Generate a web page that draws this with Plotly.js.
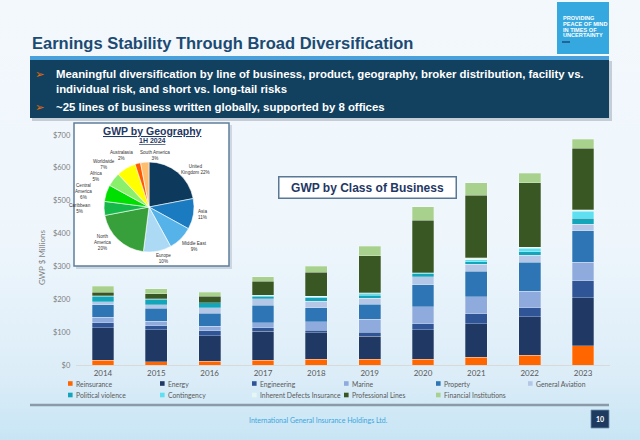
<!DOCTYPE html>
<html>
<head>
<meta charset="utf-8">
<script src="https://cdn.plot.ly/plotly-3.0.1.min.js"></script>
<style>
  html, body { margin: 0; padding: 0; }
  body { width: 640px; height: 440px; overflow: hidden;
         background: linear-gradient(to bottom, #f3f8fc 0%, #eef6fc 55%, #dcedf8 85%, #c8e5f5 100%); }
  #chart { width: 640px; height: 440px; }
</style>
</head>
<body>
<div id="chart"></div>
<script>
// ---------- data ----------
const years = ['2014','2015','2016','2017','2018','2019','2020','2021','2022','2023'];
const reinsurance          = [15, 10, 12, 15, 17, 17, 18, 23, 30, 59];
const energy               = [98, 98, 77, 88, 81, 71, 90, 103, 117, 146];
const engineering          = [15, 11, 15, 11, 8, 12, 18, 30, 28, 52];
const marine               = [18, 14, 14, 15, 25, 40, 51, 51, 50, 55];
const property             = [38, 39, 39, 53, 44, 45, 68, 79, 87, 97];
const generalAviation      = [8, 12, 17, 20, 19, 18, 23, 20, 22, 20];
const politicalViolence    = [17, 16, 15, 8, 10, 10, 9, 9, 11, 17];
const contingency          = [2, 2, 1, 2, 3, 5, 4, 5, 10, 22];
const inherentDefects      = [0, 0, 0, 0, 2, 2, 0, 6, 4, 5];
const professionalLines    = [11, 15, 19, 43, 74, 112, 159, 191, 196, 187];
const financialInstitutions= [17, 15, 12, 13, 17, 30, 41, 38, 28, 27];

const seriesNames = ['Reinsurance','Energy','Engineering','Marine','Property','General Aviation',
                     'Political violence','Contingency','Inherent Defects Insurance','Professional Lines','Financial Institutions'];
const seriesValues = [reinsurance, energy, engineering, marine, property, generalAviation,
                      politicalViolence, contingency, inherentDefects, professionalLines, financialInstitutions];
const seriesColors = ['#ff6600','#1f3864','#2f5597','#8faadc','#2e75b6','#b4c7e7',
                      '#13a5ba','#5fe0f2','#e3f8f3','#385723','#a9d18e'];

const geoRegions = ['United Kingdom','Asia','Middle East','Europe','North America','Caribbean',
                    'Central America','Africa','Worldwide','Australasia','South America'];
const geoShare   = [22, 11, 9, 10, 20, 5, 6, 5, 7, 2, 3];
const geoLabelLines = ['United<br>Kingdom','Asia','Middle East','Europe','North<br>America','Caribbean',
                       'Central<br>America','Africa','Worldwide','Australasia','South America'];
const geoColors  = ['#0d3a5c','#1a7bc0','#55b3e9','#acdaf5','#38a03a','#17b84a',
                    '#00e000','#8af06c','#ffff00','#ff5a00','#ffbd6e'];

const yTicks = [0,100,200,300,400,500,600,700];

// ---------- helpers (pixel -> paper) ----------
const W = 640, H = 440;
const px = v => v / W;
const py = v => 1 - v / H;
const rect = (x0,y0,x1,y1,fill,line,layer) => ({type:'rect', xref:'paper', yref:'paper',
  x0:px(x0), x1:px(x1), y0:py(y1), y1:py(y0), fillcolor:fill,
  line: line || {width:0}, layer: layer || 'below'});
const ann = (x,y,text,opts) => Object.assign({xref:'paper', yref:'paper', x:px(x), y:py(y),
  text:text, showarrow:false, xanchor:'left', yanchor:'middle', align:'left'}, opts);

const chartFont = 'Lato, "Open Sans", sans-serif';
const headFont = '"Liberation Sans", Arial, sans-serif';

// ---------- traces ----------
const traces = seriesNames.map((n, i) => ({
  type:'bar', name:n, x:years, y:seriesValues[i], showlegend:false,
  marker:{color:seriesColors[i], line:{color:'rgba(255,255,255,0.55)', width:0.5}},
  hoverinfo:'none'
}));

// pie geometry (layout)
const pieCx = 149, pieCy = 207, pieR = 45;
traces.push({
  type:'pie', labels:geoRegions, values:geoShare, sort:false, direction:'clockwise', rotation:0,
  textinfo:'none',
  marker:{colors:geoColors, line:{color:'#ffffff', width:0.6}},
  domain:{x:[px(pieCx-pieR), px(pieCx+pieR)], y:[py(pieCy+pieR), py(pieCy-pieR)]},
  showlegend:false, hoverinfo:'none'
});

// ---------- shapes ----------
const shapes = [
  rect(32,61,612,121,'rgba(40,60,80,0.22)'),
  rect(30,60,609,118,'#12405f'),
  rect(30,56,609,60,'#4aa0da'),
  rect(557,2,609,54,'#35a8e0'),
  {type:'line', xref:'paper', yref:'paper', x0:px(562), x1:px(570), y0:py(42), y1:py(42),
   line:{color:'#1f4e79', width:1.5}},
  rect(76,125,232,269,'rgba(60,80,100,0.18)'),
  rect(74,123,229,266,'#ffffff',{color:'#5f7f9c', width:1.5}),
  {type:'line', xref:'paper', yref:'paper', x0:px(30), x1:px(609), y0:py(405), y1:py(405),
   line:{color:'#8a9aa8', width:2.5}},
  rect(591,410,609,428,'#1f3a5f',{color:'#6f8fb0', width:0.8})
];

// ---------- annotations ----------
const annotations = [
  ann(30,43,'<b>Earnings Stability Through Broad Diversification</b>',
      {font:{family:headFont, size:16.5, color:'#1c4a72'}}),
  ann(33,74,'➢',{font:{family:'DejaVu Sans', size:11.5, color:'#e46c0a'}}),
  ann(33,107,'➢',{font:{family:'DejaVu Sans', size:11.5, color:'#e46c0a'}}),
  ann(54,74,'<b>Meaningful diversification by line of business, product, geography, broker distribution, facility vs.</b>',
      {font:{family:headFont, size:11.4, color:'#ffffff'}}),
  ann(54,89,'<b>individual risk, and short vs. long-tail risks</b>',
      {font:{family:headFont, size:11.4, color:'#ffffff'}}),
  ann(54,107,'<b>~25 lines of business written globally, supported by 8 offices</b>',
      {font:{family:headFont, size:11.4, color:'#ffffff'}}),
  ann(561,18,'<b>PROVIDING</b>',{font:{family:headFont, size:5.6, color:'#ffffff'}}),
  ann(561,23.8,'<b>PEACE OF MIND</b>',{font:{family:headFont, size:5.6, color:'#ffffff'}}),
  ann(561,29.6,'<b>IN TIMES OF</b>',{font:{family:headFont, size:5.6, color:'#ffffff'}}),
  ann(561,35.4,'<b>UNCERTAINTY</b>',{font:{family:headFont, size:5.6, color:'#ffffff'}}),
  ann(152,131,'<b><u>GWP by Geography</u></b>',
      {xanchor:'center', font:{family:headFont, size:10.5, color:'#1f3864'}}),
  ann(152,140.5,'<b><u>1H 2024</u></b>',
      {xanchor:'center', font:{family:headFont, size:7, color:'#1f3864'}}),
  ann(367,187,'<b>GWP by Class of Business</b>',
      {xanchor:'center', align:'center', width:172, height:16, borderpad:2,
       bgcolor:'#ffffff', bordercolor:'#5a7895', borderwidth:1.5,
       font:{family:headFont, size:12, color:'#1f3864'}}),
  ann(42,258,'GWP $ Millions',
      {xanchor:'center', textangle:-90, font:{family:chartFont, size:8, color:'#7f7f7f'}}),
  ann(318.5,419.5,'International General Insurance Holdings Ltd.',
      {xanchor:'center', font:{family:chartFont, size:7, color:'#3aa6dd'}}),
  ann(600,419,'<b>10</b>',
      {xanchor:'center', font:{family:chartFont, size:7, color:'#ffffff'}})
];

// pie labels, placed from the slice angles
const geoLabelNudge = [[0,0],[0,0],[-3,5],[5,3],[-3,0],[-8,0],[-9,0],[-7,0],[-8,0],[-15,-4],[11,-3]];
const geoTotal = geoShare.reduce((a,b) => a + b, 0);
let cum = 0;
geoShare.forEach((v, i) => {
  const mid = (cum + v / 2) / geoTotal * 2 * Math.PI;
  cum += v;
  const s = Math.sin(mid), c = Math.cos(mid), rr = pieR + 4;
  const x = pieCx + rr * s + geoLabelNudge[i][0];
  const y = pieCy - rr * c + geoLabelNudge[i][1];
  const xa = s > 0.25 ? 'left' : (s < -0.25 ? 'right' : 'center');
  annotations.push(ann(x, y, geoLabelLines[i] + (i === 0 ? ' ' : '<br>') + v + '%',
    {xanchor:xa, yanchor:'middle', align:'center', borderpad:0,
     font:{family:headFont, size:4.6, color:'#333333'}}));
});

// legend built from the series names and colours
seriesNames.forEach((n, i) => {
  const col = i % 6, row = Math.floor(i / 6);
  const lx = 68 + col * 92, ly = 383.5 + row * 11.5;
  shapes.push(rect(lx, ly - 2.3, lx + 4.6, ly + 2.3, seriesColors[i], null, 'above'));
  annotations.push(ann(lx + 5.5, ly, n, {font:{family:chartFont, size:6.8, color:'#595959'}}));
});

const layout = {
  width:W, height:H, margin:{l:0, r:0, t:0, b:0},
  paper_bgcolor:'rgba(0,0,0,0)', plot_bgcolor:'rgba(0,0,0,0)',
  barmode:'stack', bargap:0.59, showlegend:false,
  xaxis:{domain:[px(76.3), px(609.7)], type:'category', showgrid:false, zeroline:false,
         showline:true, linecolor:'#d9d9d9', linewidth:1, ticks:'',
         tickfont:{family:chartFont, size:8, color:'#595959'}},
  yaxis:{domain:[py(365), py(135)], range:[0,700], tickmode:'array', tickvals:yTicks,
         ticktext:yTicks.map(v => '$' + v), ticklabelstandoff:5,
         showgrid:false, zeroline:false, showline:false, ticks:'',
         tickfont:{family:chartFont, size:7.5, color:'#7f7f7f'}},
  shapes:shapes, annotations:annotations
};

Plotly.newPlot('chart', traces, layout, {displayModeBar:false, staticPlot:true});
</script>
</body>
</html>
